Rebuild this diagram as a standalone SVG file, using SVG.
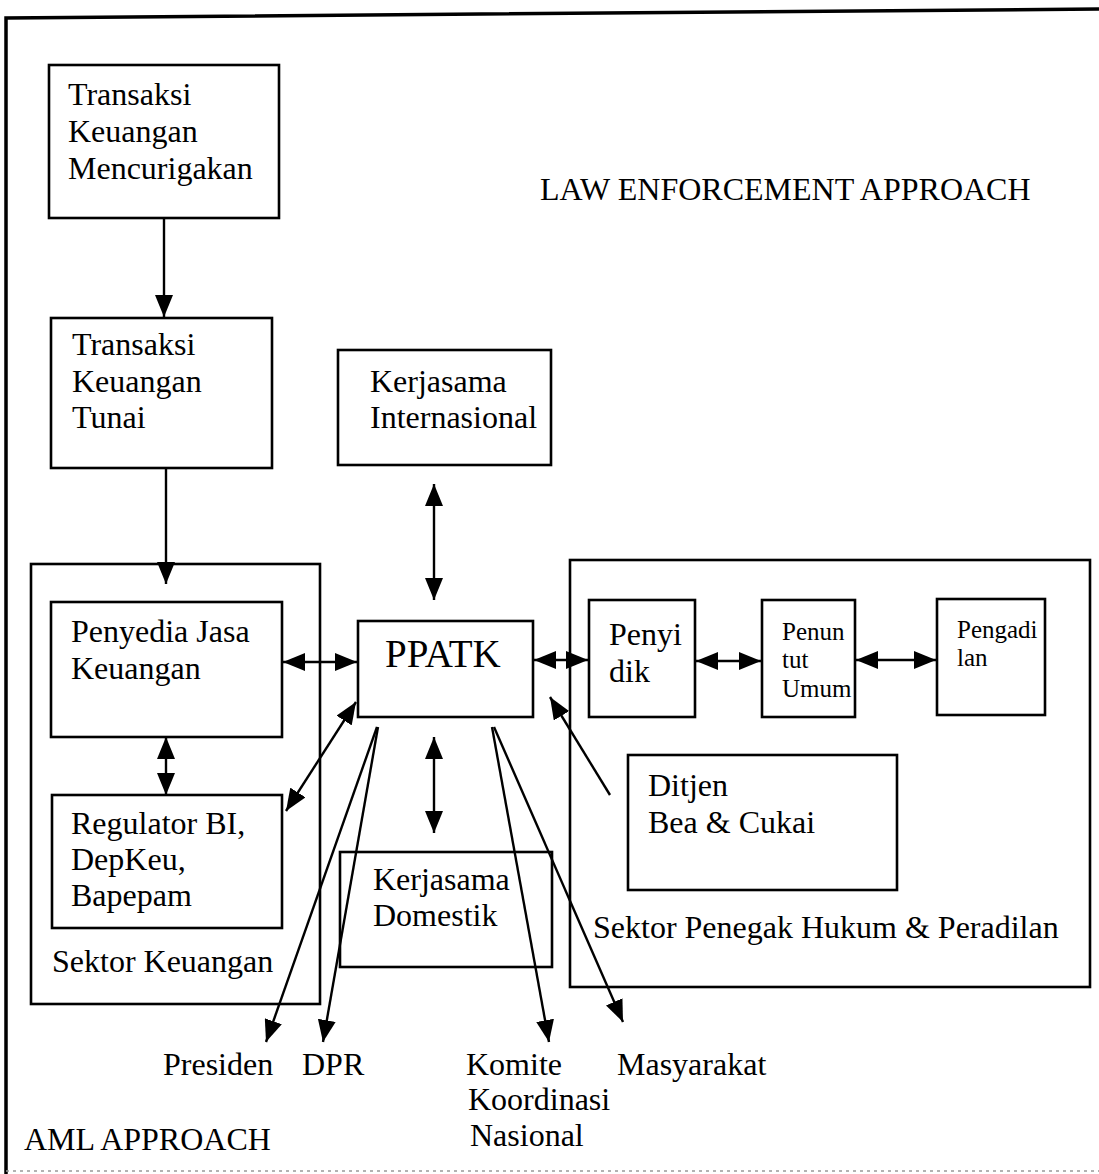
<svg xmlns="http://www.w3.org/2000/svg" width="1099" height="1174" viewBox="0 0 1099 1174">
<style>
text{font-family:"Liberation Serif","Times New Roman",serif;fill:#000;font-size:32px}
.box{fill:none;stroke:#000;stroke-width:2.6}
.ln{fill:none;stroke:#000;stroke-width:2.4}
.sm{font-size:25px}
</style>
<defs>
<marker id="ah" viewBox="0 0 22 18" refX="22" refY="9" markerWidth="22" markerHeight="18" markerUnits="userSpaceOnUse" orient="auto-start-reverse">
<path d="M0,0 L22,9 L0,18 Z" fill="#000"/>
</marker>
</defs>
<rect width="1099" height="1174" fill="#fff"/>
<g id="frame">
<path d="M6,1174 L6,18 L1099,9" fill="none" stroke="#000" stroke-width="3.5"/>
<line x1="6" y1="1171" x2="1099" y2="1171" stroke="#999" stroke-width="1.5" stroke-dasharray="3 4"/>
</g>
<g id="title-law"><text x="540" y="200">LAW ENFORCEMENT APPROACH</text></g>
<g id="title-aml"><text x="24" y="1150">AML APPROACH</text></g>
<g id="transaksi-mencurigakan">
<rect class="box" x="49" y="65" width="230" height="153"/>
<text x="68" y="105">Transaksi</text><text x="68" y="142">Keuangan</text><text x="68" y="179">Mencurigakan</text>
</g>
<g id="transaksi-tunai">
<rect class="box" x="51" y="318" width="221" height="150"/>
<text x="72" y="355">Transaksi</text><text x="72" y="392">Keuangan</text><text x="72" y="428">Tunai</text>
</g>
<g id="kerjasama-internasional">
<rect class="box" x="338" y="350" width="213" height="115"/>
<text x="370" y="392">Kerjasama</text><text x="370" y="428">Internasional</text>
</g>
<g id="sektor-keuangan">
<rect class="box" x="31" y="564" width="289" height="440"/>
<text x="52" y="972">Sektor Keuangan</text>
</g>
<g id="penyedia-jasa">
<rect class="box" x="51" y="602" width="231" height="135"/>
<text x="71" y="642">Penyedia Jasa</text><text x="71" y="679">Keuangan</text>
</g>
<g id="regulator">
<rect class="box" x="52" y="795" width="230" height="133"/>
<text x="71" y="834">Regulator BI,</text><text x="71" y="870">DepKeu,</text><text x="71" y="906">Bapepam</text>
</g>
<g id="ppatk">
<rect class="box" x="358" y="621" width="175" height="96"/>
<text x="385" y="667" style="font-size:39px">PPATK</text>
</g>
<g id="kerjasama-domestik">
<rect class="box" x="340" y="852" width="212" height="115"/>
<text x="373" y="890">Kerjasama</text><text x="373" y="926">Domestik</text>
</g>
<g id="sektor-penegak">
<rect class="box" x="570" y="560" width="520" height="427"/>
<text x="593" y="938">Sektor Penegak Hukum &amp; Peradilan</text>
</g>
<g id="penyidik">
<rect class="box" x="589" y="600" width="106" height="117"/>
<text x="609" y="645">Penyi</text><text x="609" y="682">dik</text>
</g>
<g id="penuntut">
<rect class="box" x="762" y="600" width="93" height="117"/>
<text class="sm" x="782" y="640">Penun</text><text class="sm" x="782" y="668">tut</text><text class="sm" x="782" y="697">Umum</text>
</g>
<g id="pengadilan">
<rect class="box" x="937" y="599" width="108" height="116"/>
<text class="sm" x="957" y="638">Pengadi</text><text class="sm" x="957" y="666">lan</text>
</g>
<g id="ditjen">
<rect class="box" x="628" y="755" width="269" height="135"/>
<text x="648" y="796">Ditjen</text><text x="648" y="833">Bea &amp; Cukai</text>
</g>
<g id="presiden"><text x="163" y="1075">Presiden</text></g>
<g id="dpr"><text x="302" y="1075">DPR</text></g>
<g id="komite"><text x="466" y="1075">Komite</text><text x="468" y="1110">Koordinasi</text><text x="470" y="1146">Nasional</text></g>
<g id="masyarakat"><text x="617" y="1075">Masyarakat</text></g>
<g id="connectors">
<line class="ln" x1="164" y1="218" x2="164" y2="317" marker-end="url(#ah)"/>
<line class="ln" x1="166" y1="468" x2="166" y2="584" marker-end="url(#ah)"/>
<line class="ln" x1="283" y1="662" x2="357" y2="662" marker-start="url(#ah)" marker-end="url(#ah)"/>
<line class="ln" x1="166" y1="737" x2="166" y2="795" marker-start="url(#ah)" marker-end="url(#ah)"/>
<line class="ln" x1="434" y1="484" x2="434" y2="600" marker-start="url(#ah)" marker-end="url(#ah)"/>
<line class="ln" x1="434" y1="737" x2="434" y2="833" marker-start="url(#ah)" marker-end="url(#ah)"/>
<line class="ln" x1="534" y1="660" x2="588" y2="660" marker-start="url(#ah)" marker-end="url(#ah)"/>
<line class="ln" x1="696" y1="661" x2="761" y2="661" marker-start="url(#ah)" marker-end="url(#ah)"/>
<line class="ln" x1="856" y1="660" x2="936" y2="660" marker-start="url(#ah)" marker-end="url(#ah)"/>
<line class="ln" x1="356" y1="702" x2="286" y2="811" marker-start="url(#ah)" marker-end="url(#ah)"/>
<line class="ln" x1="610" y1="795" x2="550" y2="697" marker-end="url(#ah)"/>
<line class="ln" x1="377" y1="727" x2="266" y2="1042" marker-end="url(#ah)"/>
<line class="ln" x1="378" y1="727" x2="323" y2="1042" marker-end="url(#ah)"/>
<line class="ln" x1="492" y1="727" x2="549" y2="1042" marker-end="url(#ah)"/>
<line class="ln" x1="494" y1="727" x2="623" y2="1022" marker-end="url(#ah)"/>
</g>
</svg>
